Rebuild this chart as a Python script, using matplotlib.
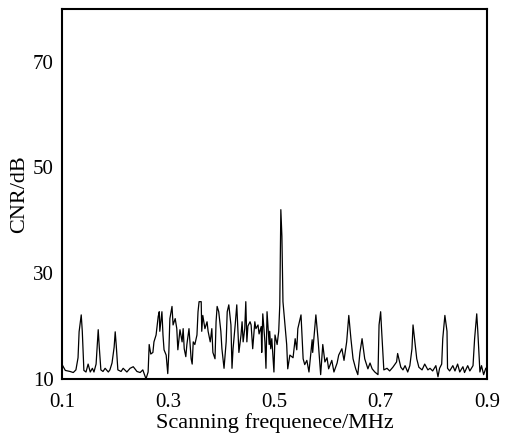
import matplotlib.pyplot as plt

plt.rcParams['font.family'] = ['Liberation Serif', 'DejaVu Serif']

freq = [0.100, 0.106, 0.115, 0.121, 0.126, 0.130, 0.132, 0.136, 0.138, 0.141,
        0.145, 0.149, 0.153, 0.157, 0.160, 0.164, 0.166, 0.168, 0.170, 0.173,
        0.177, 0.181, 0.187, 0.190, 0.194, 0.198, 0.200, 0.202, 0.205, 0.211,
        0.215, 0.222, 0.228, 0.234, 0.241, 0.247, 0.252,
        0.258, 0.262, 0.264, 0.267, 0.271, 0.273, 0.277, 0.281, 0.283, 0.284,
        0.288, 0.290, 0.292, 0.296, 0.299, 0.301, 0.303, 0.307, 0.309, 0.313,
        0.316, 0.318, 0.322, 0.326, 0.328, 0.330, 0.333, 0.335, 0.339, 0.343,
        0.345, 0.347, 0.350, 0.354, 0.356, 0.358, 0.362, 0.363, 0.365, 0.369,
        0.373, 0.375, 0.379, 0.382, 0.384, 0.388, 0.390, 0.392, 0.395, 0.399,
        0.401, 0.405, 0.409, 0.411, 0.414, 0.418, 0.420, 0.422, 0.426, 0.429,
        0.431, 0.433, 0.437, 0.439, 0.441, 0.444, 0.446, 0.448, 0.450, 0.454,
        0.456, 0.459, 0.463, 0.465, 0.469, 0.471, 0.475, 0.476, 0.478, 0.482,
        0.484, 0.486, 0.490, 0.491, 0.493, 0.495, 0.499, 0.501, 0.505, 0.508,
        0.510, 0.512, 0.514, 0.516,
        0.520, 0.523, 0.525, 0.529, 0.535, 0.539, 0.542, 0.544, 0.550, 0.554,
        0.557, 0.561, 0.565, 0.571, 0.572, 0.578, 0.582, 0.587, 0.591, 0.595,
        0.599, 0.602, 0.608, 0.612, 0.618, 0.621, 0.627, 0.631, 0.636, 0.640,
        0.644, 0.648, 0.653, 0.657, 0.661, 0.665, 0.670, 0.676, 0.680, 0.684,
        0.689, 0.695, 0.697, 0.700, 0.702, 0.706, 0.712, 0.717, 0.723, 0.730,
        0.732, 0.738, 0.742, 0.746, 0.751, 0.755, 0.759, 0.761, 0.764, 0.768,
        0.772, 0.778, 0.783, 0.789, 0.793, 0.798, 0.804, 0.808, 0.811, 0.815,
        0.817, 0.821, 0.825, 0.826, 0.830, 0.836, 0.840, 0.845, 0.849, 0.855,
        0.858, 0.864, 0.868, 0.874, 0.877, 0.881, 0.883, 0.887, 0.890, 0.894,
        0.898]

cnr = [12.7, 11.6, 11.4, 11.2, 11.7, 14.0, 18.9, 22.1, 19.0, 11.6,
       11.3, 12.8, 11.3, 12.0, 11.3, 12.8, 16.0, 19.3, 16.0, 11.7,
       11.4, 12.0, 11.3, 11.7, 13.0, 16.0, 18.9, 16.3, 11.7, 11.4,
       12.0, 11.3, 12.0, 12.3, 11.4, 11.2, 11.7,
       10.0, 11.3, 16.5, 14.7, 15.0, 17.0, 18.3, 21.8, 22.7, 19.0,
       22.7, 18.3, 15.5, 14.5, 11.0, 15.0, 21.4, 23.7, 20.2, 21.4,
       19.5, 15.5, 19.3, 17.0, 19.5, 15.7, 14.2, 16.5, 19.5, 13.8,
       12.8, 17.0, 16.5, 18.3, 22.7, 24.6, 24.6, 19.0, 22.0, 19.5,
       20.8, 19.0, 17.0, 19.5, 15.0, 13.8, 20.8, 23.7, 22.7, 19.0,
       15.7, 12.0, 17.0, 22.7, 24.0, 20.2, 12.0, 15.7, 20.2, 24.0,
       19.5, 15.0, 18.3, 20.8, 17.0, 19.5, 24.6, 17.0, 20.0, 20.8,
       20.2, 15.7, 20.8, 19.5, 20.2, 18.5, 19.9, 15.0, 22.3, 17.0,
       12.0, 22.7, 16.5, 19.0, 15.7, 17.6, 11.3, 18.3, 16.5, 19.0,
       24.0, 42.0, 37.0, 24.6,
       20.0, 16.5, 11.9, 14.5, 14.0, 17.6, 15.5, 19.5, 22.1, 13.8,
       12.7, 13.5, 11.3, 17.4, 15.0, 22.1, 17.6, 10.8, 16.5, 13.2,
       14.0, 11.9, 13.5, 11.3, 13.0, 14.5, 15.7, 13.5, 17.0, 22.0,
       17.6, 13.8, 11.9, 10.8, 15.0, 17.6, 13.8, 11.9, 13.0, 11.9,
       11.3, 10.8, 20.2, 22.7, 18.9, 11.7, 12.0, 11.5, 12.2, 13.2,
       14.8, 12.2, 11.7, 12.5, 11.3, 12.5, 15.7, 20.2, 17.5, 13.8,
       12.2, 11.7, 12.8, 11.7, 12.0, 11.5, 12.5, 10.4, 12.0, 12.8,
       17.6, 22.0, 19.0, 12.0, 11.5, 12.5, 11.5, 12.8, 11.3, 12.3,
       11.2, 12.5, 11.5, 12.5, 17.6, 22.3, 19.0, 11.3, 12.5, 10.8,
       12.0]

xticks = [0.1, 0.3, 0.5, 0.7, 0.9]
yticks = [10, 30, 50, 70]

fig = plt.figure(figsize=(5.05, 4.37), dpi=100)
ax = fig.add_axes([0.123, 0.133, 0.841, 0.847])
ax.plot(freq, cnr, color='black', linewidth=0.9)
ax.set_xlim(0.1, 0.9)
ax.set_ylim(10, 80)
ax.set_xticks(xticks)
ax.set_xticklabels([str(t) for t in xticks])
ax.set_yticks(yticks)
ax.tick_params(length=0, labelsize=15)
ax.tick_params(axis='x', pad=10)
ax.tick_params(axis='y', pad=6)
for s in ax.spines.values():
    s.set_linewidth(1.5)
ax.set_xlabel('Scanning frequenece/MHz', fontsize=16, labelpad=1)
ax.set_ylabel('CNR/dB', fontsize=16, labelpad=3)
fig.savefig('out.png', dpi=100)
